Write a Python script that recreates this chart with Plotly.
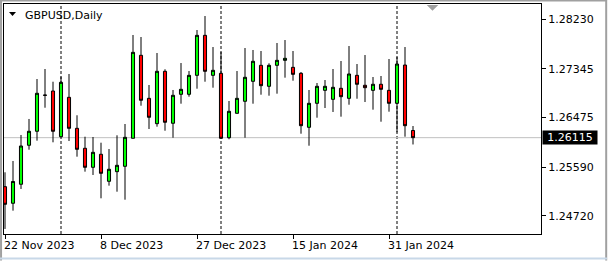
import plotly.graph_objects as go

# ---- data ----
dates = [
    "2023-11-22", "2023-11-23", "2023-11-24", "2023-11-27", "2023-11-28", "2023-11-29", "2023-11-30",
    "2023-12-01", "2023-12-04", "2023-12-05", "2023-12-06", "2023-12-07", "2023-12-08",
    "2023-12-11", "2023-12-12", "2023-12-13", "2023-12-14", "2023-12-15",
    "2023-12-18", "2023-12-19", "2023-12-20", "2023-12-21", "2023-12-22",
    "2023-12-26", "2023-12-27", "2023-12-28", "2023-12-29",
    "2024-01-02", "2024-01-03", "2024-01-04", "2024-01-05",
    "2024-01-08", "2024-01-09", "2024-01-10", "2024-01-11", "2024-01-12",
    "2024-01-15", "2024-01-16", "2024-01-17", "2024-01-18", "2024-01-19",
    "2024-01-22", "2024-01-23", "2024-01-24", "2024-01-25", "2024-01-26",
    "2024-01-29", "2024-01-30", "2024-01-31", "2024-02-01", "2024-02-02", "2024-02-05",
]
opens = [
    1.25239, 1.24942, 1.25282, 1.25979, 1.26229, 1.26877, 1.26949,
    1.26132, 1.26836, 1.26282, 1.25925, 1.25585, 1.25818,
    1.25335, 1.25507, 1.25603, 1.26104, 1.27587,
    1.26818, 1.26365, 1.27301, 1.26372, 1.26890,
    1.26890, 1.27229, 1.27944, 1.27229,
    1.27265, 1.26114, 1.26550, 1.26765,
    1.27122, 1.27408, 1.27033, 1.27408, 1.27497,
    1.27372, 1.27265, 1.26300, 1.26729, 1.26961,
    1.26800, 1.26997, 1.26818, 1.27229, 1.27051,
    1.26961, 1.27069, 1.26961, 1.26729, 1.27413, 1.26243,
]
highs = [
    1.25496, 1.25698, 1.26163, 1.26449, 1.27163, 1.27342, 1.27115,
    1.27204, 1.27253, 1.26515, 1.26132, 1.26127, 1.26025,
    1.25912, 1.26157, 1.26359, 1.27950, 1.27914,
    1.27056, 1.27628, 1.27337, 1.26967, 1.27449,
    1.27306, 1.28039, 1.28289, 1.27735,
    1.27646, 1.26770, 1.27306, 1.27717,
    1.27682, 1.27664, 1.27444, 1.27807, 1.27860,
    1.27664, 1.27288, 1.26967, 1.27092, 1.27145,
    1.27342, 1.27485, 1.27753, 1.27431, 1.27592,
    1.27199, 1.27217, 1.27521, 1.27556, 1.27735, 1.26323,
]
lows = [
    1.24483, 1.24810, 1.25198, 1.25900, 1.26061, 1.26650, 1.26032,
    1.26104, 1.26055, 1.25775, 1.25507, 1.25448, 1.25031,
    1.25257, 1.25149, 1.25006, 1.26100, 1.26686,
    1.26270, 1.26311, 1.26239, 1.26114, 1.26722,
    1.26847, 1.26990, 1.27115, 1.27008,
    1.26100, 1.26086, 1.26547, 1.26114,
    1.26722, 1.26883, 1.26865, 1.26901, 1.27187,
    1.27133, 1.26186, 1.25971, 1.26472, 1.26645,
    1.26574, 1.26490, 1.26704, 1.26811, 1.26752,
    1.26615, 1.26400, 1.26579, 1.26211, 1.26132, 1.25993,
]
closes = [
    1.24924, 1.25332, 1.25966, 1.26229, 1.26908, 1.26872, 1.26229,
    1.27104, 1.26282, 1.25907, 1.25585, 1.25853, 1.25478,
    1.25550, 1.25621, 1.26121, 1.27640, 1.26783,
    1.26479, 1.27301, 1.26390, 1.26872, 1.26979,
    1.27229, 1.27944, 1.27301, 1.27319,
    1.26104, 1.26586, 1.26818, 1.27194,
    1.27480, 1.27044, 1.27408, 1.27497, 1.27533,
    1.27247, 1.26329, 1.26729, 1.27033, 1.27033,
    1.27015, 1.26847, 1.27253, 1.27069, 1.27008,
    1.27069, 1.26979, 1.26729, 1.27431, 1.26329, 1.26115,
]

price_ticks = [1.24720, 1.25590, 1.26475, 1.27345, 1.28230]
price_tick_labels = ["1.24720", "1.25590", "1.26475", "1.27345", "1.28230"]
date_tick_vals = ["2023-11-22", "2023-12-08", "2023-12-27", "2024-01-15", "2024-01-31"]
date_tick_labels = ["22 Nov 2023", "8 Dec 2023", "27 Dec 2023", "15 Jan 2024", "31 Jan 2024"]
separator_dates = ["2023-12-01", "2024-01-02", "2024-02-01"]
symbol_title = "GBPUSD,Daily"
current_price = closes[-1]

FONT = "DejaVu Sans"

fig = go.Figure()
fig.add_trace(go.Candlestick(
    x=dates, open=opens, high=highs, low=lows, close=closes,
    increasing=dict(fillcolor="#00FF00", line=dict(color="#000000", width=1)),
    decreasing=dict(fillcolor="#FF0000", line=dict(color="#000000", width=1)),
    whiskerwidth=0,
    showlegend=False,
    hoverinfo="skip",
))

shapes = []
# period separators
for d in separator_dates:
    shapes.append(dict(type="line", xref="x", yref="paper", x0=d, x1=d, y0=0, y1=1,
                       line=dict(color="#000000", width=1, dash="3px,2px"), layer="below"))
# current price line
shapes.append(dict(type="line", xref="paper", yref="y", x0=0, x1=1, y0=current_price, y1=current_price,
                   line=dict(color="#C0C0C0", width=1), layer="below"))
# chart shift marker (grey triangle at top)
shapes.append(dict(type="path", xref="paper", yref="paper",
                   path="M 0.7872 0.9957 L 0.8088 0.9957 L 0.798 0.9709 Z",
                   fillcolor="#A0A0A0", line=dict(width=0)))
# title triangle
shapes.append(dict(type="path", xref="paper", yref="paper",
                   path="M 0.0093 0.9652 L 0.0223 0.9652 L 0.0158 0.9478 Z",
                   fillcolor="#000000", line=dict(width=0)))
# window frame
shapes.append(dict(type="line", xref="paper", yref="paper", x0=-0.0075, x1=1.123, y0=1.0152, y1=1.0152,
                   line=dict(color="#A0A0A0", width=2)))
shapes.append(dict(type="line", xref="paper", yref="paper", x0=-0.0055, x1=-0.0055, y0=-0.115, y1=1.017,
                   line=dict(color="#A0A0A0", width=2)))
shapes.append(dict(type="line", xref="paper", yref="paper", x0=1.1214, x1=1.1214, y0=-0.115, y1=1.017,
                   line=dict(color="#A0A0A0", width=2)))
shapes.append(dict(type="line", xref="paper", yref="paper", x0=-0.0075, x1=1.123, y0=-0.1065, y1=-0.1065,
                   line=dict(color="#C8D8E8", width=2)))

annotations = []
for d, lab in zip(date_tick_vals, date_tick_labels):
    annotations.append(dict(x=d, xref="x", y=0, yref="paper", text=lab, showarrow=False,
                            xanchor="left", yanchor="middle", xshift=-3, yshift=-11,
                            font=dict(family=FONT, size=11, color="#000000")))
annotations.append(dict(x=0.0354, xref="paper", y=0.952, yref="paper", text=symbol_title,
                        showarrow=False, xanchor="left", yanchor="middle",
                        font=dict(family=FONT, size=11, color="#000000")))
annotations.append(dict(x=1, xref="paper", y=current_price, yref="y", text=f"{current_price:.5f}",
                        showarrow=False, xanchor="left", yanchor="middle", xshift=1,
                        bgcolor="#000000", borderpad=1, width=52, height=11,
                        font=dict(family=FONT, size=11, color="#FFFFFF")))

fig.update_layout(
    width=608, height=261,
    margin=dict(l=4, r=67, t=4, b=27),
    paper_bgcolor="#FFFFFF", plot_bgcolor="#FFFFFF",
    font=dict(family=FONT, size=11, color="#000000"),
    boxgap=0.45,
    shapes=shapes,
    annotations=annotations,
    xaxis=dict(
        type="category", categoryorder="array", categoryarray=dates,
        range=[-0.125, 67.0],
        rangeslider=dict(visible=False),
        showgrid=False, zeroline=False,
        showline=True, mirror=True, linecolor="#000000", linewidth=1,
        tickvals=date_tick_vals, ticks="outside", ticklen=4, tickcolor="#000000",
        showticklabels=False,
    ),
    yaxis=dict(
        side="right",
        range=[1.24393, 1.28504],
        showgrid=False, zeroline=False,
        showline=True, mirror=True, linecolor="#000000", linewidth=1,
        tickvals=price_ticks, ticktext=price_tick_labels,
        ticks="outside", ticklen=4, tickcolor="#000000",
        tickfont=dict(family=FONT, size=11, color="#000000"),
    ),
)

fig.write_html("out.html")
